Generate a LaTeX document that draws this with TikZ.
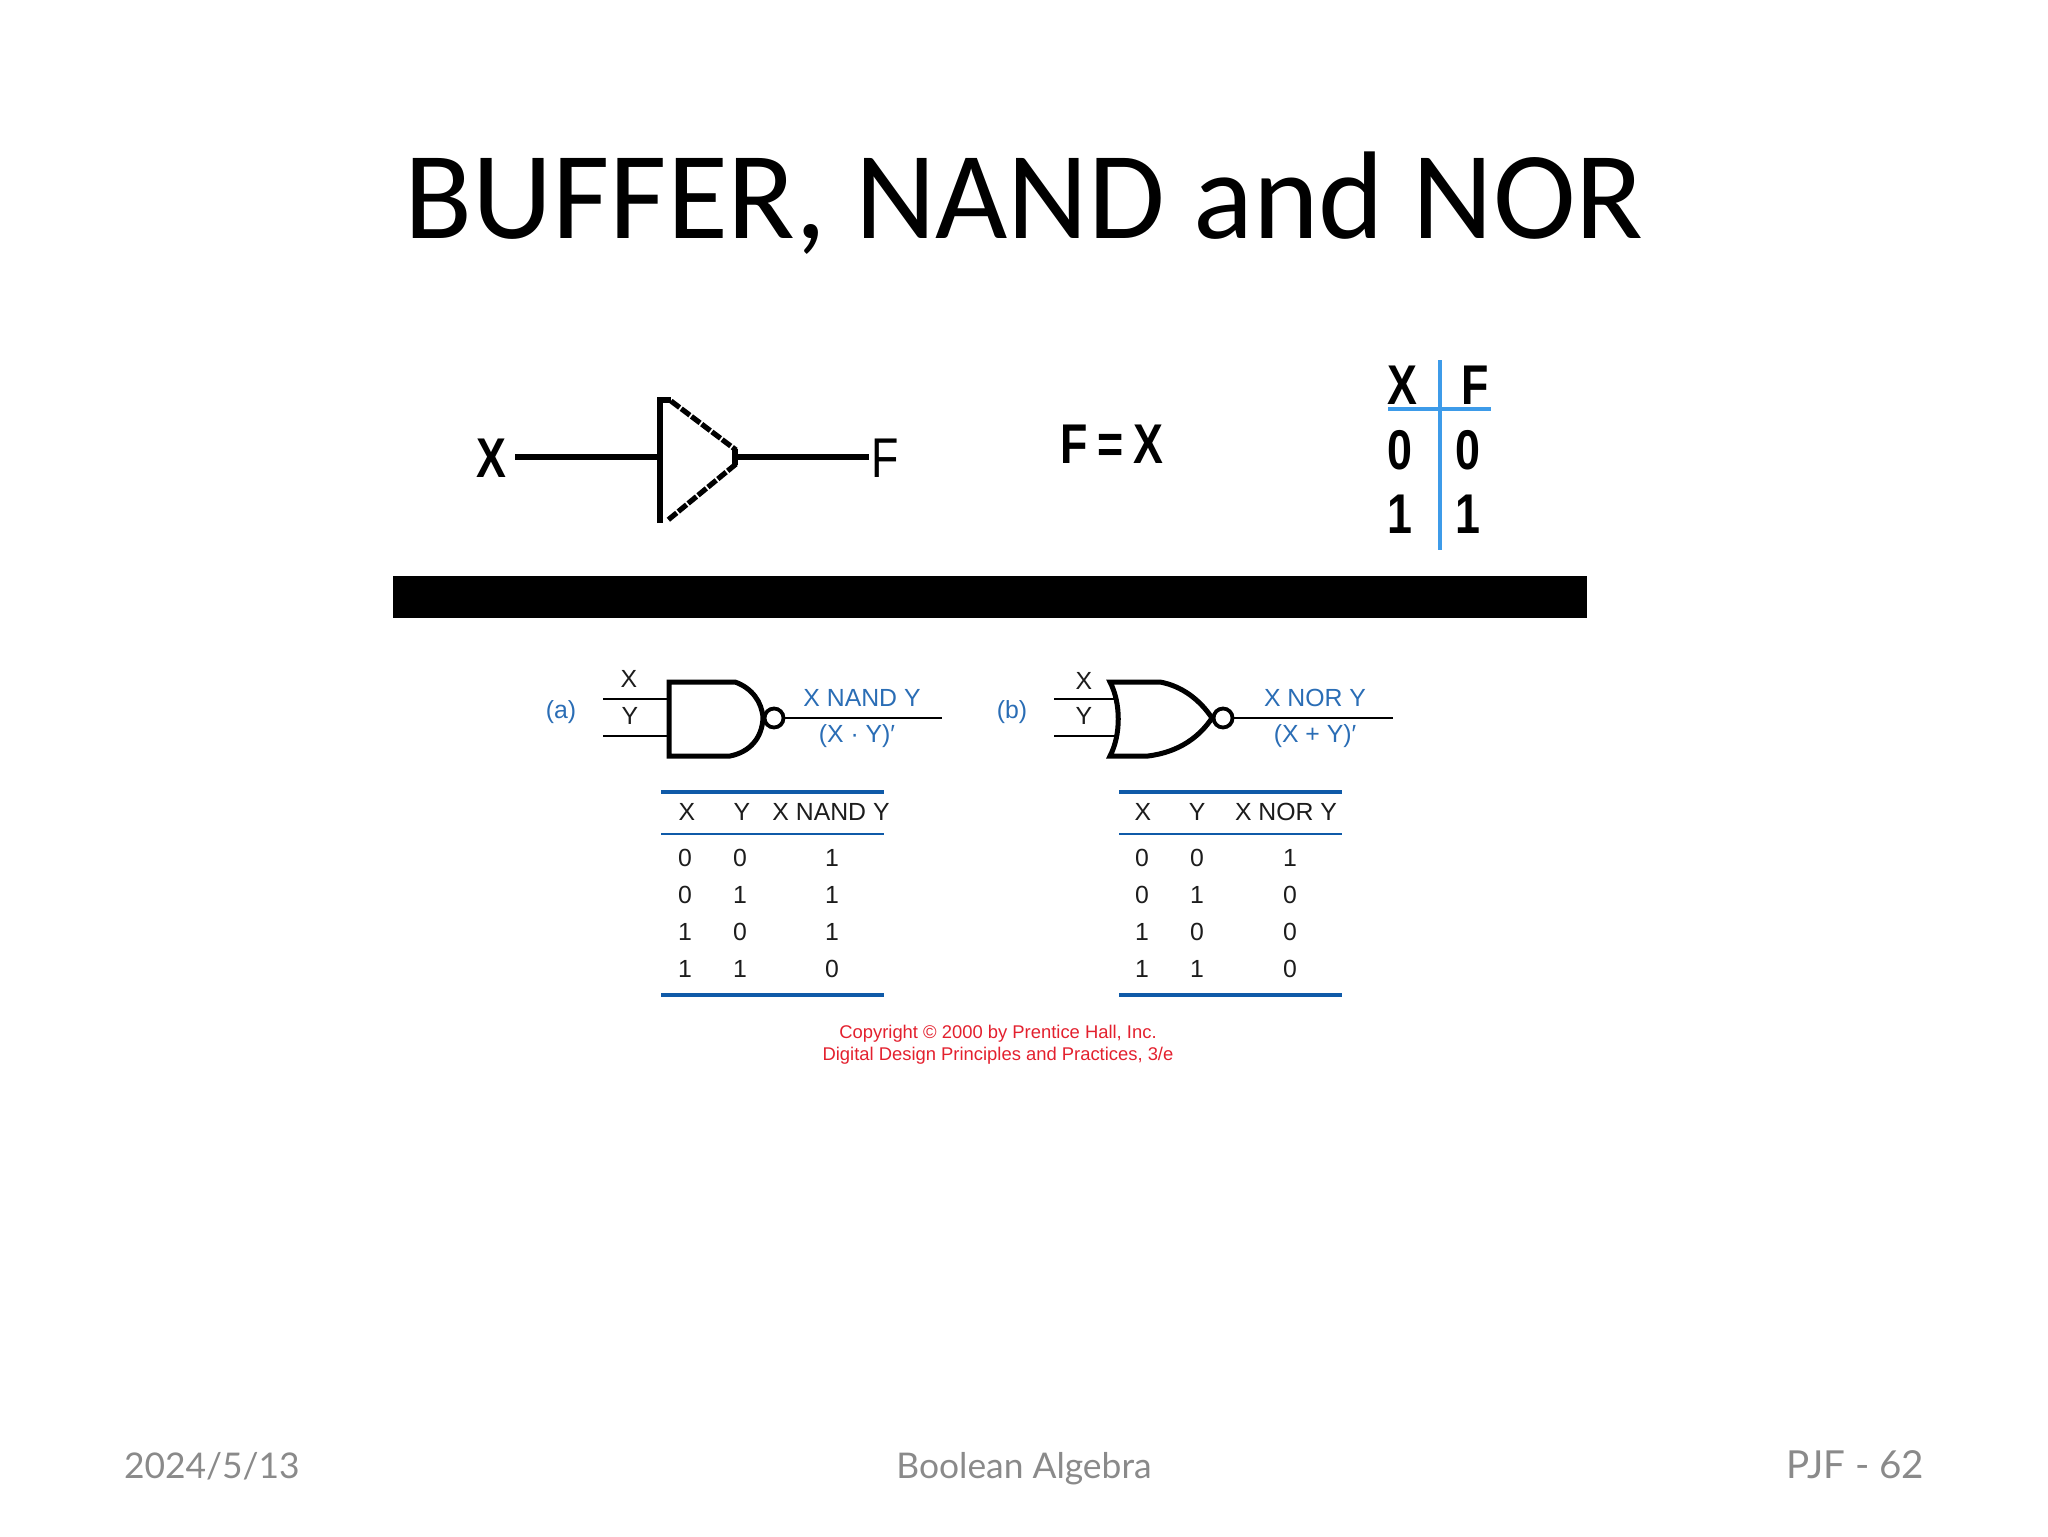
\documentclass[tikz,border=0pt]{standalone}
\usepackage{fontspec}
\setmainfont{Liberation Sans}
\newfontfamily\titlefont{Carlito}
\newfontfamily\footfont{Lato}
\newfontfamily\narrowfont[FakeStretch=0.8]{Liberation Sans}
\definecolor{txtblack}{HTML}{1C1C1C}
\definecolor{labblue}{HTML}{2A6DB5}
\definecolor{ruleblue}{HTML}{0F5AA8}
\definecolor{tblue}{HTML}{3D9BE9}
\definecolor{cred}{HTML}{E3202E}
\definecolor{footgrey}{HTML}{8A8A8A}
\tikzset{
  x=0.5pt,y=-0.5pt,
  lab/.style={inner sep=0pt,outer sep=0pt,anchor=center,text=txtblack,font=\fontsize{12.4}{13}\selectfont},
  bluelab/.style={lab,text=labblue},
  bigbold/.style={inner sep=0pt,outer sep=0pt,anchor=center,text=black,font=\narrowfont\bfseries\fontsize{28}{30}\selectfont},
  wire/.style={draw=black,line width=1.1pt},
  thickwire/.style={draw=black,line width=2.6pt},
  gatebody/.style={draw=black,line width=2.5pt,line join=miter},
  bubble/.style={circle,draw=black,line width=1.9pt,fill=white,minimum size=9.5pt,inner sep=0pt,outer sep=0pt},
  toprule/.style={draw=ruleblue,line width=2pt},
  midrule/.style={draw=ruleblue,line width=1.2pt},
  footlab/.style={inner sep=0pt,outer sep=0pt,text=footgrey,font=\footfont\fontsize{17.7}{20}\selectfont},
  copyr/.style={inner sep=0pt,outer sep=0pt,anchor=center,text=cred,font=\fontsize{9.2}{11}\selectfont},
  tline/.style={draw=tblue,line width=2pt},
}
\begin{document}
\begin{tikzpicture}
\useasboundingbox (0,0) rectangle (2048,1536);
% title
\node[inner sep=0pt,anchor=base,text=black,font=\titlefont\fontsize{62.4}{64}\selectfont] (title) at (1024,238) {BUFFER, NAND and NOR};
% buffer row
\node[bigbold] (bx) at (491,458) {X};
\node[lab,font=\narrowfont\fontsize{28}{30}\selectfont,text=black] (bf) at (885,458) {F};
\coordinate (bufin) at (658,457);
\coordinate (bufout) at (738,457);
\draw[thickwire] (515,457) -- (bufin);
\draw[thickwire] (bufout) -- (869,457);
\draw[thickwire] (660,523) -- (660,400) -- (671,400);
\draw[thickwire,dash pattern=on 5.4pt off 1pt] (671,401) -- (736,450);
\draw[thickwire,dash pattern=on 5.4pt off 1pt] (736,464) -- (668,520);
\draw[thickwire] (735,449) -- (735,465);
\node[bigbold] (eq) at (1112,444) {F\,=\,X};
% small truth table
\node[bigbold] (tx) at (1402,385) {X};
\node[bigbold] (tf) at (1475,385) {F};
\node[bigbold] (t00) at (1400,450) {0};
\node[bigbold] (t01) at (1468,450) {0};
\node[bigbold] (t10) at (1400,514) {1};
\node[bigbold] (t11) at (1468,514) {1};
\draw[tline] (1440,360) -- (1440,550);
\draw[tline] (1388,409) -- (1491,409);
% bar
\fill[black] (393,576) rectangle (1587,618);
% NAND
\node[bluelab] (a) at (561,712) {(a)};
\node[lab] (nx) at (629,679) {X};
\node[lab] (ny) at (630,716) {Y};
\coordinate (nandA) at (667,699);
\coordinate (nandB) at (667,736);
\coordinate (nandAin) at (603,699);
\coordinate (nandBin) at (603,736);
\draw[wire] (nandAin) -- (nandA);
\draw[wire] (nandBin) -- (nandB);
\draw[gatebody] (730,756) -- (669,756) -- (669,682) -- (735,682)
  .. controls (752,688) and (762,702) .. (763,718)
  .. controls (762,738) and (750,752) .. cycle;
\node[bubble] (nandB1) at (774,718) {};
\coordinate (nandOut) at (942,718);
\draw[wire] (nandB1) -- (nandOut);
\node[bluelab] (nl1) at (862,698) {X NAND Y};
\node[bluelab] (nl2) at (857,736) {(X · Y)′};
% NOR
\node[bluelab] (b) at (1012,712) {(b)};
\node[lab] (rx) at (1084,681) {X};
\node[lab] (ry) at (1084,716) {Y};
\coordinate (norA) at (1118,699);
\coordinate (norB) at (1118,736);
\coordinate (norAin) at (1054,699);
\coordinate (norBin) at (1054,736);
\draw[wire] (norAin) -- (norA);
\draw[wire] (norBin) -- (norB);
\draw[gatebody] (1110,682) -- (1160,682)
  .. controls (1182,686) and (1200,700) .. (1212,718)
  .. controls (1200,736) and (1180,752) .. (1148,756)
  -- (1110,756)
  .. controls (1121,735) and (1121,703) .. cycle;
\node[bubble] (norB1) at (1223,718) {};
\coordinate (norOut) at (1393,718);
\draw[wire] (norB1) -- (norOut);
\node[bluelab] (rl1) at (1315,698) {X NOR Y};
\node[bluelab] (rl2) at (1315,736) {(X + Y)′};
% NAND table
\draw[toprule] (661,792) -- (884,792);
\draw[midrule] (661,834) -- (884,834);
\draw[toprule] (661,995) -- (884,995);
\node[lab] (h1) at (687,812) {X};
\node[lab] (h2) at (742,812) {Y};
\node[lab] (h3) at (831,812) {X NAND Y};
\foreach \nm/\r/\a/\b/\c in {p/858/0/0/1,q/895/0/1/1,s/932/1/0/1,u/969/1/1/0}{
  \node[lab] (a\nm) at (685,\r) {\a};
  \node[lab] (b\nm) at (740,\r) {\b};
  \node[lab] (c\nm) at (832,\r) {\c};
}
% NOR table
\draw[toprule] (1119,792) -- (1342,792);
\draw[midrule] (1119,834) -- (1342,834);
\draw[toprule] (1119,995) -- (1342,995);
\node[lab] (k1) at (1143,812) {X};
\node[lab] (k2) at (1197,812) {Y};
\node[lab] (k3) at (1286,812) {X NOR Y};
\foreach \nm/\r/\a/\b/\c in {p/858/0/0/1,q/895/0/1/0,s/932/1/0/0,u/969/1/1/0}{
  \node[lab] (d\nm) at (1142,\r) {\a};
  \node[lab] (e\nm) at (1197,\r) {\b};
  \node[lab] (f\nm) at (1290,\r) {\c};
}
% copyright
\node[copyr] (c1) at (998,1034) {Copyright © 2000 by Prentice Hall, Inc.};
\node[copyr] (c2) at (998,1056) {Digital Design Principles and Practices, 3/e};
% footer
\node[footlab,anchor=base west] (fl) at (124,1478) {2024/5/13};
\node[footlab,anchor=base] (fc) at (1024,1478) {Boolean Algebra};
\node[footlab,anchor=base east,font=\footfont\fontsize{19.3}{20}\selectfont] (fr) at (1924,1478) {PJF - 62};
\end{tikzpicture}
\end{document}
